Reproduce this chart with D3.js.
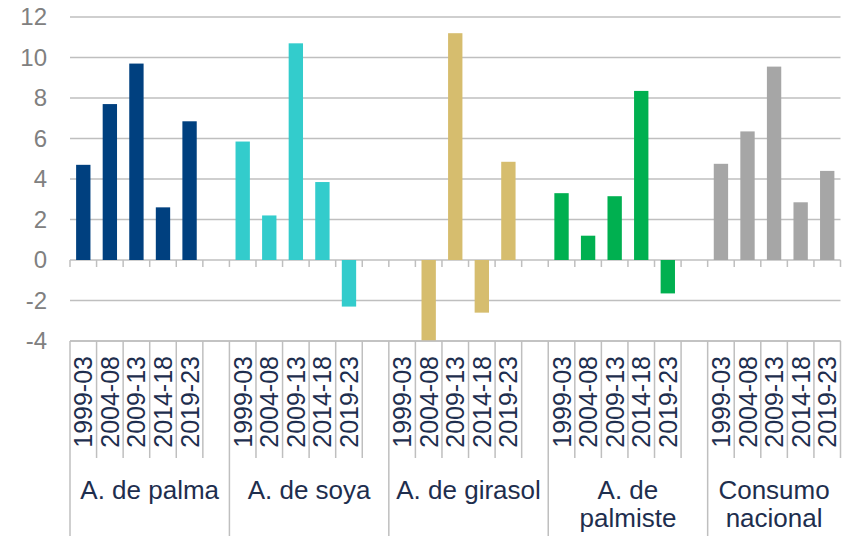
<!DOCTYPE html>
<html>
<head>
<meta charset="utf-8">
<script src="https://cdn.jsdelivr.net/npm/d3@7"></script>
<style>
  html, body { margin: 0; padding: 0; background: #ffffff; }
  svg { display: block; font-family: "Liberation Sans", Arial, sans-serif; }
</style>
</head>
<body>
<svg id="chart" width="842" height="536"></svg>
<script>
// ---- data ----
const groups = ["A. de palma", "A. de soya", "A. de girasol", "A. de palmiste", "Consumo nacional"];
const periods = ["1999-03", "2004-08", "2009-13", "2014-18", "2019-23"];
const palma    = [4.7, 7.7, 9.7, 2.6, 6.85];
const soya     = [5.85, 2.2, 10.7, 3.85, -2.3];
const girasol  = [null, -4.0, 11.2, -2.6, 4.85];
const palmiste = [3.3, 1.2, 3.15, 8.35, -1.65];
const consumo  = [4.75, 6.35, 9.55, 2.85, 4.4];
const seriesValues = [palma, soya, girasol, palmiste, consumo];
const colors = ["#00407F", "#33CCCC", "#D6BD6E", "#00B050", "#A6A6A6"];
const yTicks = [-4, -2, 0, 2, 4, 6, 8, 10, 12];

// ---- layout ----
const svg = d3.select("#chart");
const mLeft = 70, mRight = 840.5, mTop = 17, mBottom = 341;
const gridColor = "#BFBFBF";
const textDark = "#1E2E4E";
const textGray = "#808080";

// build slots: each group has its 5 periods, plus an empty slot between groups
const slots = [];
groups.forEach((g, gi) => {
  periods.forEach((p, pi) => {
    slots.push({ key: gi + "|" + p, group: gi, period: p, value: seriesValues[gi][pi] });
  });
  if (gi < groups.length - 1) slots.push({ key: gi + "|blank", group: gi, period: null, value: null });
});

const pad = 0.46;
const x = d3.scaleBand()
  .domain(slots.map(d => d.key))
  .range([mLeft, mRight])
  .paddingInner(pad)
  .paddingOuter(pad / 2);
const step = x.step();
const slotStart = key => x(key) - (pad * step) / 2;

const y = d3.scaleLinear().domain([-4, 12]).range([mBottom, mTop]);

// gridlines
svg.append("g")
  .selectAll("line")
  .data(yTicks)
  .join("line")
  .attr("x1", mLeft).attr("x2", mRight)
  .attr("y1", d => y(d)).attr("y2", d => y(d))
  .attr("stroke", gridColor)
  .attr("stroke-width", 1.5);

// y-axis labels
svg.append("g")
  .selectAll("text")
  .data(yTicks)
  .join("text")
  .attr("x", 47)
  .attr("y", d => y(d))
  .attr("dy", "0.35em")
  .attr("text-anchor", "end")
  .attr("fill", textGray)
  .attr("font-size", 24)
  .text(d => d);

// bars
svg.append("g")
  .selectAll("rect")
  .data(slots.filter(d => d.value !== null))
  .join("rect")
  .attr("x", d => x(d.key))
  .attr("width", x.bandwidth())
  .attr("y", d => y(Math.max(0, d.value)))
  .attr("height", d => Math.abs(y(d.value) - y(0)))
  .attr("fill", d => colors[d.group]);

// zero-axis tick marks at every slot boundary
const boundaries = slots.map(d => slotStart(d.key)).concat([mRight]);
svg.append("g")
  .selectAll("line")
  .data(boundaries)
  .join("line")
  .attr("x1", d => d).attr("x2", d => d)
  .attr("y1", y(0)).attr("y2", y(0) + 7)
  .attr("stroke", gridColor)
  .attr("stroke-width", 1.5);

// category table lines
const table = svg.append("g");
table.append("line")
  .attr("x1", mLeft).attr("x2", mRight)
  .attr("y1", mBottom).attr("y2", mBottom)
  .attr("stroke", gridColor).attr("stroke-width", 1.5);

const innerBounds = [];
const groupBounds = [mLeft];
slots.forEach((d, i) => {
  if (i === 0) return;
  const xs = slotStart(d.key);
  const prev = slots[i - 1];
  if (prev.group !== d.group) groupBounds.push(xs);
  else innerBounds.push(xs);
});
innerBounds.push(mRight);
table.selectAll("line.inner")
  .data(innerBounds)
  .join("line")
  .attr("class", "inner")
  .attr("x1", d => d).attr("x2", d => d)
  .attr("y1", mBottom).attr("y2", 458)
  .attr("stroke", gridColor).attr("stroke-width", 1.5);
table.selectAll("line.grp")
  .data(groupBounds)
  .join("line")
  .attr("class", "grp")
  .attr("x1", d => d).attr("x2", d => d)
  .attr("y1", mBottom).attr("y2", 536)
  .attr("stroke", gridColor).attr("stroke-width", 1.5);

// period labels (rotated)
svg.append("g")
  .selectAll("text")
  .data(slots.filter(d => d.period !== null))
  .join("text")
  .attr("transform", d => `translate(${x(d.key) + x.bandwidth() / 2},356) rotate(-90)`)
  .attr("dy", "0.36em")
  .attr("text-anchor", "end")
  .attr("fill", textDark)
  .attr("font-size", 25)
  .text(d => d.period);

// group labels (wrapped to the group width)
const groupExtents = groups.map((g, gi) => {
  const s = slots.filter(d => d.group === gi);
  const x0 = slotStart(s[0].key);
  const x1 = gi < groups.length - 1 ? slotStart(s[s.length - 1].key) + step : mRight;
  return { name: g, x0, x1 };
});
const gLabels = svg.append("g");
groupExtents.forEach(ge => {
  const t = gLabels.append("text")
    .attr("x", (ge.x0 + ge.x1) / 2)
    .attr("y", 499)
    .attr("text-anchor", "middle")
    .attr("fill", textDark)
    .attr("font-size", 26);
  const words = ge.name.split(" ");
  const maxW = (ge.x1 - ge.x0) - 8;
  const lines = [];
  let cur = [];
  const probe = gLabels.append("text").attr("font-size", 26);
  words.forEach(w => {
    const test = cur.concat([w]).join(" ");
    probe.text(test);
    if (probe.node().getComputedTextLength() > maxW && cur.length) {
      lines.push(cur.join(" "));
      cur = [w];
    } else cur.push(w);
  });
  lines.push(cur.join(" "));
  probe.remove();
  lines.forEach((ln, li) => {
    t.append("tspan")
      .attr("x", (ge.x0 + ge.x1) / 2)
      .attr("dy", li === 0 ? 0 : 28)
      .text(ln);
  });
});
</script>
</body>
</html>
